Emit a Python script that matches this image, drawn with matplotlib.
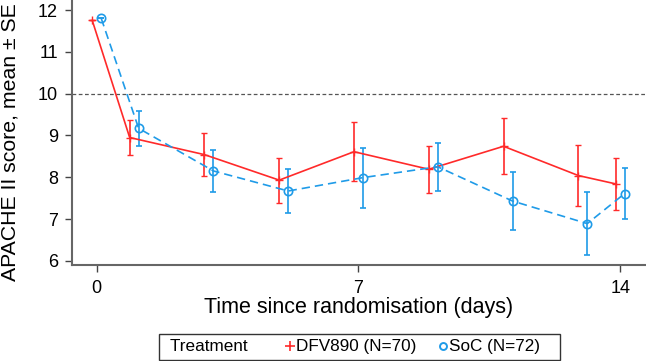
import matplotlib
matplotlib.use("Agg")
import matplotlib.pyplot as plt
from matplotlib.lines import Line2D

plt.rcParams["font.family"] = ["Liberation Sans", "DejaVu Sans"]

# ── Data ─────────────────────────────────────────────────────
days = [0, 1, 3, 5, 7, 9, 11, 13, 14]

dfv_mean = [11.75, 8.95, 8.54, 7.93, 8.61, 8.19, 8.74, 8.04, 7.84]
dfv_se = [0.0, 0.42, 0.51, 0.54, 0.70, 0.56, 0.67, 0.72, 0.62]

soc_mean = [11.80, 9.17, 8.15, 7.67, 7.99, 8.25, 7.43, 6.89, 7.61]
soc_se = [0.0, 0.42, 0.51, 0.52, 0.72, 0.57, 0.70, 0.75, 0.62]

x_ticks = [0, 7, 14]
y_ticks = [6, 7, 8, 9, 10, 11, 12]
ref_line = 10

RED = "#ff2a2a"
BLUE = "#1f9be8"

# ── Figure ───────────────────────────────────────────────────
fig = plt.figure(figsize=(6.46, 3.61), dpi=100)
ax = fig.add_axes([0.111, 0.266, 0.889, 0.734])

dodge = 0.12
ax.axhline(ref_line, color="#555555", linestyle=(0, (3, 2)), linewidth=0.9, zorder=1)

ax.errorbar([d - dodge for d in days], dfv_mean, yerr=dfv_se, color=RED,
            linestyle="-", linewidth=1.2, marker="+", markersize=6,
            capsize=2.5, elinewidth=1.2, zorder=3)
ax.errorbar([d + dodge for d in days], soc_mean, yerr=soc_se, color=BLUE,
            linestyle=(0, (5, 3)), linewidth=1.2, marker="o", markersize=6,
            markerfacecolor="none", markeredgewidth=1.2,
            capsize=2.5, elinewidth=1.2, zorder=3)

ax.set_xlim(-0.67, 14.69)
ax.set_ylim(5.9, 12.24)
ax.set_xticks(x_ticks)
ax.set_yticks(y_ticks)
ax.tick_params(axis="both", labelsize=13, length=5, width=1, color="#444444")
ax.tick_params(axis="x", pad=6)
ax.tick_params(axis="y", pad=5)
ax.spines["top"].set_visible(False)
ax.spines["right"].set_visible(False)
for s in ("left", "bottom"):
    ax.spines[s].set_color("#666666")
    ax.spines[s].set_linewidth(1.5)

ax.set_xlabel("Time since randomisation (days)", fontsize=15.5, labelpad=0)
# y label placed by hand so it sits a bit lower than the axes centre
fig.text(10 / 646, 1 - 142 / 361, "APACHE II score, mean \u00b1 SE",
         rotation=90, ha="center", va="center", fontsize=15.3)

handles = [
    Line2D([], [], linestyle="none", marker="none"),
    Line2D([], [], color=RED, linestyle="none", marker="+", markersize=7,
           markeredgewidth=1.2),
    Line2D([], [], color=BLUE, linestyle="none", marker="o", markersize=5,
           markerfacecolor="none", markeredgewidth=1.4),
]
# trailing spaces widen the gaps the way the reference legend does
labels = ["Treatment   ", "DFV890 (N=70)", "SoC (N=72)   "]
leg = fig.legend(handles, labels, ncol=3, loc="center",
                 bbox_to_anchor=(0.5565, 0.0388),
                 fontsize=12.3, frameon=True, fancybox=False, edgecolor="black",
                 handlelength=0, handletextpad=0.35, columnspacing=1.6,
                 borderpad=0.3)
leg.get_frame().set_linewidth(1.0)

fig.savefig("out.png", dpi=100)
